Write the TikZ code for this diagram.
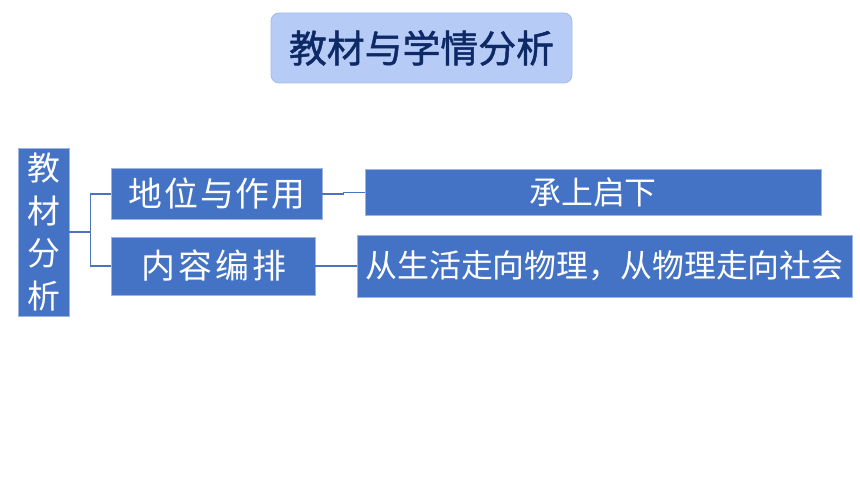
\documentclass[tikz,border=0pt]{standalone}
\usepackage{fontspec}
\newfontfamily\cjk{Noto Sans CJK SC}
\newfontfamily\cjkmed[FakeBold=1.3]{Noto Sans CJK SC}
\newfontfamily\cjka[LetterSpace=5]{Noto Sans CJK SC}
\newfontfamily\cjkb[LetterSpace=10]{Noto Sans CJK SC}
\definecolor{boxblue}{HTML}{4472C4}
\definecolor{boxedge}{HTML}{9DB4E0}
\definecolor{titlefill}{HTML}{B7CBF7}
\definecolor{titleedge}{HTML}{A6BBEA}
\definecolor{navy}{HTML}{0E2A66}
\definecolor{linkblue}{HTML}{4A74C0}
\begin{document}
\begin{tikzpicture}[x=1bp,y=-1bp,
  bluebox/.style={draw=boxedge, line width=0.8bp, fill=boxblue, text=white, inner sep=0pt, font=\cjk\fontsize{32}{38}\selectfont},
  link/.style={draw=linkblue, line width=1.1bp}]
\useasboundingbox (0,0) rectangle (860,484);
\fill[white] (0,0) rectangle (860,484);
% title
\node[draw=titleedge, line width=0.8bp, fill=titlefill, rounded corners=8bp, minimum width=301bp, minimum height=70bp, inner sep=0pt, text=navy, font=\cjkmed\fontsize{38}{44}\selectfont] (title) at (421.5,48) {教材与学情分析};
% left vertical box
\node[bluebox, minimum width=51bp, minimum height=168bp, align=center, font=\cjk\fontsize{33}{42.7}\selectfont] (jc) at (43.5,232) {教\\材\\分\\析};
% middle boxes
\node[bluebox, minimum width=211bp, minimum height=51bp, font=\cjka\fontsize{34}{38}\selectfont] (dw) at (216.5,194) {\hspace*{1bp}地位与作用};
\node[bluebox, minimum width=204bp, minimum height=58bp, font=\cjkb\fontsize{34}{38}\selectfont] (nr) at (213,266) {\hspace*{2bp}内容编排};
% right boxes
\node[bluebox, minimum width=456bp, minimum height=46bp, font=\cjk\fontsize{32}{36}\selectfont] (cs) at (593,192.5) {承上启下};
\node[bluebox, minimum width=495bp, minimum height=62bp] (cl) at (604.5,266) {从生活走向物理，从物理走向社会};
% connectors
\draw[link] (jc.east) -- ++(21,0) coordinate (fork);
\draw[link] (fork) |- (dw.west);
\draw[link] (fork) |- (nr.west);
\draw[link] (dw.east) -- ++(21,0) |- (cs.west);
\draw[link] (nr.east) -- (cl.west);
\end{tikzpicture}
\end{document}
